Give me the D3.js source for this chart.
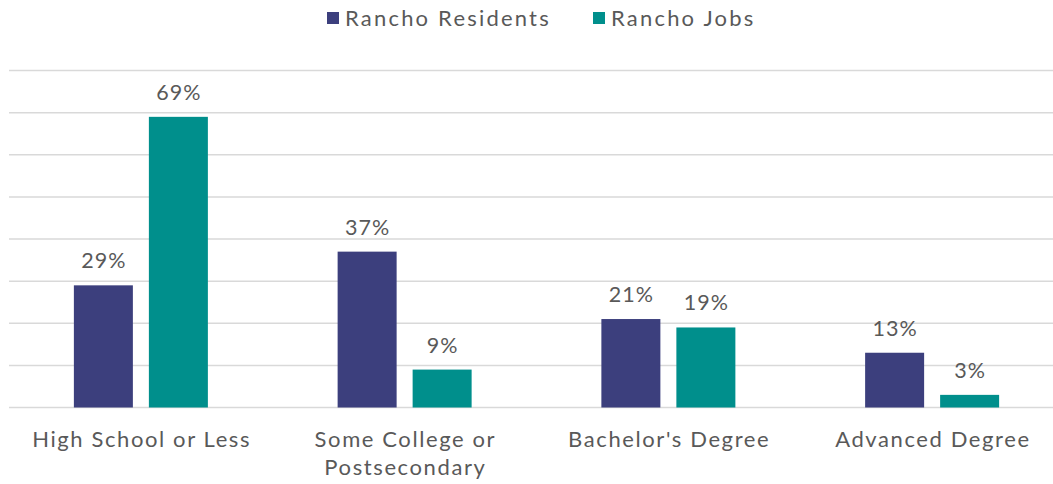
<!DOCTYPE html>
<html><head><meta charset="utf-8">
<script src="https://cdn.jsdelivr.net/npm/d3@7"></script>
<style>body{margin:0;background:#fff}svg{display:block}text{font-family:"Century Gothic",Lato,"DejaVu Sans",sans-serif;fill:#595959}</style>
</head><body><svg id="c" width="1053" height="484"></svg>
<script>
const categories = [["High School or Less"], ["Some College or", "Postsecondary"], ["Bachelor's Degree"], ["Advanced Degree"]];
const series = ["Rancho Residents", "Rancho Jobs"];
const residents = [29, 37, 21, 13];
const jobs = [69, 9, 19, 3];
const colors = ["#3C3F7D", "#008F8C"];
const yTicks = [0, 10, 20, 30, 40, 50, 60, 70, 80];

const svg = d3.select("#c");
const catKeys = categories.map(c => c.join(" "));
const x0 = d3.scaleBand().domain(catKeys).range([9, 1064]);
const x1 = d3.scaleBand().domain(series).range([0, 134]).paddingInner(0.2133);
const y = d3.scaleLinear().domain([0, 80]).range([407.5, 70.5]);

svg.append("g").selectAll("line").data(yTicks).join("line")
  .attr("x1", 9).attr("x2", 1064)
  .attr("y1", d => y(d)).attr("y2", d => y(d))
  .attr("stroke", "#D9D9D9").attr("stroke-width", 1.5);

const vals = [residents, jobs];
const groups = svg.append("g").selectAll("g").data(catKeys).join("g")
  .attr("transform", d => `translate(${x0(d) + x0.bandwidth()/2 - 67},0)`);
series.forEach((s, si) => {
  groups.append("rect")
    .attr("x", x1(s)).attr("width", x1.bandwidth())
    .attr("y", (d, i) => y(vals[si][i]))
    .attr("height", (d, i) => y(0) - y(vals[si][i]))
    .attr("fill", colors[si]);
  groups.append("text")
    .attr("x", x1(s) + x1.bandwidth()/2 + 0.5)
    .attr("y", (d, i) => y(vals[si][i]) - 17)
    .attr("text-anchor", "middle").attr("font-size", 21.5).attr("letter-spacing", 1)
    .text((d, i) => vals[si][i] + "%");
});

const lab = svg.append("g").selectAll("text").data(categories).join("text")
  .attr("x", (d, i) => x0(catKeys[i]) + x0.bandwidth()/2 + 0.8)
  .attr("y", 447).attr("text-anchor", "middle").attr("font-size", 22).attr("letter-spacing", 1.6);
lab.selectAll("tspan").data(d => d).join("tspan")
  .attr("x", function() { return this.parentNode.getAttribute("x"); })
  .attr("dy", (d, i) => i ? 28 : 0).text(d => d);

const legX = [327, 593];
const leg = svg.append("g").selectAll("g").data(series).join("g")
  .attr("transform", (d, i) => `translate(${legX[i]},0)`);
leg.append("rect").attr("x", 0).attr("y", 12).attr("width", 12).attr("height", 12)
  .attr("fill", (d, i) => colors[i]);
leg.append("text").attr("x", 18).attr("y", 26).attr("font-size", 22).attr("letter-spacing", 2.2).text(d => d);
</script></body></html>
